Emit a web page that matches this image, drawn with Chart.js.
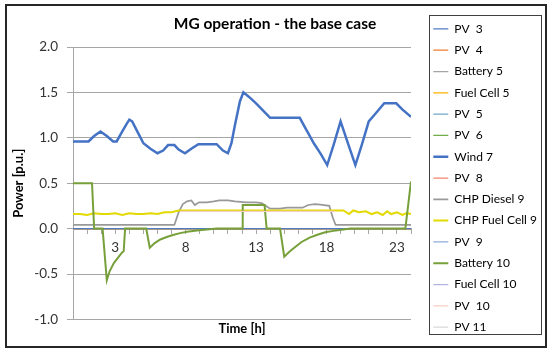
<!DOCTYPE html>
<html>
<head>
<meta charset="utf-8">
<script src="https://cdn.jsdelivr.net/npm/chart.js@4.4.1/dist/chart.umd.min.js"></script>
<style>
  html, body { margin: 0; padding: 0; background: #fff; }
  #c { display: block; }
</style>
</head>
<body>
<canvas id="c" width="550" height="355"></canvas>
<script>
// data (hours, p.u.)
const seriesNames = ["PV  3", "PV  4", "Battery 5", "Fuel Cell 5", "PV  5", "PV  6", "Wind 7", "PV  8",
  "CHP Diesel 9", "CHP Fuel Cell 9", "PV  9", "Battery 10", "Fuel Cell 10", "PV  10", "PV 11"];
const seriesColors = ["#4F7CC4", "#ED7D31", "#A5A5A5", "#FFB000", "#6FA8C8", "#70AD47", "#4472C4", "#F4866A",
  "#999999", "#E2DA00", "#8FAADC", "#77A03B", "#B4B4E0", "#F6CFC2", "#D9D9D9"];

const xTickLabels = [3, 8, 13, 18, 23];

// series that stay at zero all day
const zeroHours = [0, 24];
const zeroValues = [0, 0];

const windHours = [0, 1.1, 1.5, 1.95, 2.4, 2.85, 3.1, 3.5, 3.8, 4.0, 4.2, 4.6, 5.0, 5.5, 6.0, 6.4, 6.75, 7.2, 7.5, 7.95,
  8.4, 8.9, 10.2, 10.65, 11.0, 11.25, 11.5, 11.85, 12.1, 12.5, 13.0, 13.5, 14.0, 16.1, 16.6, 17.1, 17.6, 18.05,
  18.5, 19.0, 19.5, 20.05, 20.5, 21.0, 21.5, 22.1, 22.95, 23.4, 24];
const wind7 = [0.96, 0.96, 1.02, 1.07, 1.02, 0.96, 0.96, 1.07, 1.15, 1.2, 1.18, 1.06, 0.94, 0.88, 0.83, 0.86, 0.92, 0.92, 0.87, 0.83,
  0.88, 0.93, 0.93, 0.86, 0.83, 0.94, 1.14, 1.4, 1.5, 1.45, 1.38, 1.3, 1.22, 1.22, 1.08, 0.94, 0.82, 0.7,
  0.92, 1.18, 0.95, 0.7, 0.92, 1.18, 1.27, 1.38, 1.38, 1.31, 1.23];

const dieselHours = [0, 7.2, 7.5, 7.8, 8.1, 8.4, 8.65, 8.95, 9.5, 10.0, 10.4, 11.0, 11.5, 12.3, 13.0, 13.4, 13.7, 14.0,
  14.7, 15.2, 15.8, 16.3, 16.7, 17.2, 17.7, 18.2, 18.45, 18.65, 24];
const chpDiesel9 = [0.04, 0.04, 0.18, 0.27, 0.3, 0.31, 0.26, 0.29, 0.29, 0.3, 0.31, 0.31, 0.3, 0.29, 0.29, 0.28, 0.25, 0.22,
  0.22, 0.23, 0.23, 0.23, 0.26, 0.27, 0.26, 0.25, 0.12, 0.04, 0.04];

const fuelCellHours = [0, 0.5, 1.0, 1.5, 2.0, 2.5, 3.0, 3.5, 4.0, 4.5, 5.0, 5.5, 6.0, 6.5, 7.0, 7.5, 8.0, 19.2,
  19.6, 19.9, 20.3, 20.8, 21.2, 21.6, 22.0, 22.3, 22.6, 23.0, 23.4, 23.7, 24];
const chpFuelCell9 = [0.16, 0.16, 0.15, 0.17, 0.16, 0.16, 0.17, 0.15, 0.17, 0.16, 0.16, 0.17, 0.16, 0.18, 0.18, 0.2, 0.2, 0.2,
  0.16, 0.2, 0.18, 0.19, 0.16, 0.18, 0.15, 0.19, 0.16, 0.18, 0.15, 0.17, 0.16];

const batteryHours = [0, 1.35, 1.5, 2.1, 2.4, 2.6, 2.9, 3.2, 3.5, 3.6, 3.7, 5.2, 5.45, 5.8, 6.2, 6.7, 7.1, 7.6, 8.1, 8.8,
  9.5, 10.2, 12.0, 12.05, 13.6, 13.75, 14.7, 15.0, 15.4, 15.8, 16.2, 16.8, 17.3, 17.9, 18.5, 19.2, 19.7, 23.6, 24];
const battery10 = [0.5, 0.5, 0, 0, -0.57, -0.47, -0.38, -0.32, -0.26, -0.25, 0, 0, -0.21, -0.16, -0.12, -0.09, -0.07, -0.05, -0.035, -0.02,
  -0.01, 0, 0, 0.26, 0.26, 0, 0, -0.31, -0.25, -0.2, -0.15, -0.1, -0.07, -0.04, -0.025, -0.01, 0, 0, 0.52];

const pv10Hours = [0, 7.6, 7.6, 18.6, 18.6, 24];
const pv10 = [0, null, 0.19, 0.19, null, 0];

const seriesData = {
  "Wind 7": [windHours, wind7],
  "CHP Diesel 9": [dieselHours, chpDiesel9],
  "CHP Fuel Cell 9": [fuelCellHours, chpFuelCell9],
  "Battery 10": [batteryHours, battery10],
  "PV  10": [pv10Hours, pv10]
};
const thick = { "Wind 7": 2.5, "Battery 10": 2, "CHP Fuel Cell 9": 2, "CHP Diesel 9": 1.75 };

function toPoints(xs, ys) {
  return xs.map((x, i) => ({ x: x, y: ys[i] }));
}

const datasets = seriesNames.map((name, i) => {
  const d = seriesData[name] || [zeroHours, zeroValues];
  const visible = !!seriesData[name];
  return {
    label: name,
    data: toPoints(d[0], d[1]),
    borderColor: seriesColors[i],
    backgroundColor: seriesColors[i],
    borderWidth: thick[name] || 1.25,
    pointRadius: 0,
    tension: 0,
    spanGaps: false,
    order: visible ? 15 - i : 100
  };
});

Chart.defaults.font.family = "Lato, 'Open Sans', sans-serif";
Chart.defaults.color = "#333";

const frame = {
  id: "frame",
  beforeDraw(chart) {
    const ctx = chart.ctx;
    ctx.save();
    ctx.fillStyle = "#fff";
    ctx.fillRect(0, 0, chart.width, chart.height);
    ctx.restore();
  },
  afterDraw(chart) {
    const ctx = chart.ctx;
    const lg = chart.legend;
    ctx.save();
    ctx.strokeStyle = "#262626";
    ctx.lineWidth = 2;
    ctx.strokeRect(6, 5, 540, 342);
    // legend frame
    ctx.lineWidth = 1;
    ctx.strokeStyle = "#404040";
    ctx.strokeRect(Math.round(lg.left + 5) + 0.5, 15.5, 112, 319);
    ctx.restore();
  }
};

new Chart(document.getElementById("c"), {
  type: "line",
  data: { datasets: datasets },
  options: {
    responsive: false,
    animation: false,
    devicePixelRatio: 1,
    layout: { padding: { left: 8, top: 10.5, right: 8, bottom: 9.5 } },
    plugins: {
      title: {
        display: true,
        text: "MG operation - the base case",
        color: "#000",
        font: { size: 15.5, weight: "bold" },
        padding: { top: 4.2, bottom: 13.7 }
      },
      legend: {
        position: "right",
        maxWidth: 118,
        labels: {
          color: "#000",
          font: { size: 12 },
          usePointStyle: true,
          pointStyle: "line",
          pointStyleWidth: 15,
          padding: 9.3,
          sort: (a, b) => a.datasetIndex - b.datasetIndex
        }
      },
      tooltip: { enabled: false }
    },
    scales: {
      x: {
        type: "linear",
        position: { y: 0 },
        min: 0,
        max: 24,
        grid: { drawOnChartArea: false, tickLength: 5, color: "#A6A6A6" },
        border: { color: "#A6A6A6" },
        ticks: {
          stepSize: 1,
          autoSkip: false,
          maxRotation: 0,
          padding: 6,
          color: "#333",
          font: { size: 13.5 },
          callback: (v) => (xTickLabels.includes(v) ? String(v) : "")
        }
      },
      x2: {
        type: "linear",
        position: "bottom",
        min: 0,
        max: 24,
        grid: { display: false, drawTicks: false },
        border: { display: false },
        ticks: { display: false },
        title: {
          display: true,
          text: "Time [h]",
          color: "#000",
          font: { size: 13, weight: "bold" },
          padding: { top: 2, bottom: 8.5 }
        }
      },
      y: {
        min: -1,
        max: 2,
        grid: { color: "#A6A6A6", tickLength: 6 },
        border: { color: "#A6A6A6" },
        ticks: {
          stepSize: 0.5,
          padding: 9,
          color: "#333",
          font: { size: 13.5 },
          callback: (v) => v.toFixed(1)
        },
        title: {
          display: true,
          text: "Power [p.u.]",
          color: "#000",
          font: { size: 13, weight: "bold" },
          padding: { top: 3, bottom: 0 }
        },
        afterFit: (s) => { s.width = 65; }
      },
      yR: {
        position: "right",
        grid: { display: false, drawTicks: false },
        border: { display: false },
        ticks: { display: false },
        afterFit: (s) => { s.width = 13; }
      }
    }
  },
  plugins: [frame]
});
</script>
</body>
</html>
